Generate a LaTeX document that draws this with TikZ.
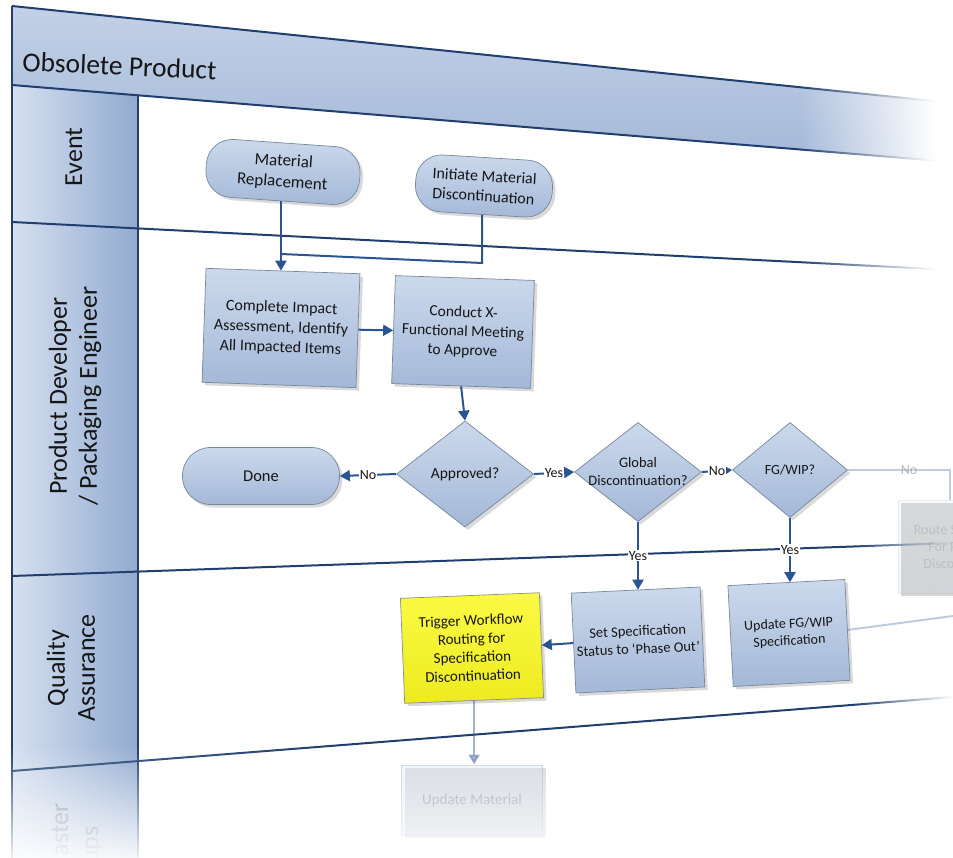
\documentclass[tikz,border=0pt]{standalone}
\usepackage{fontspec}
\setmainfont{Carlito}
\usetikzlibrary{arrows.meta,shapes.geometric,shadows,fadings}
\definecolor{lanec}{HTML}{203F6F}
\definecolor{connc}{HTML}{2A5592}
\definecolor{boxtop}{HTML}{CCD9EC}
\definecolor{boxbot}{HTML}{A3B8D7}
\definecolor{boxline}{HTML}{76879F}
\definecolor{colL}{HTML}{D6E0F0}
\definecolor{colR}{HTML}{91AAD0}
\definecolor{hdrT}{HTML}{C3D1E7}
\definecolor{hdrB}{HTML}{A3B8D8}
\definecolor{ylwT}{HTML}{FAFA45}
\definecolor{ylwB}{HTML}{EDEB1E}
\definecolor{txt}{HTML}{161616}
\tikzfading[name=fadeRight, left color=transparent!100, right color=transparent!0]
\tikzfading[name=fadeDown, top color=transparent!100, bottom color=transparent!8]
\tikzset{
  laneline/.style={draw=lanec, line width=2pt},
  lanecell/.style={left color=colL, right color=colR},
  basebox/.style={draw=boxline, line width=0.7pt, top color=boxtop, bottom color=boxbot,
    align=center, text=txt, inner sep=2pt,
    drop shadow={shadow xshift=3pt, shadow yshift=-3pt, opacity=0.3}},
  procbox/.style={basebox, font=\fontsize{16}{20}\selectfont},
  term/.style={basebox, rounded corners=26pt, font=\fontsize{16.5}{20}\selectfont},
  dec/.style={basebox, shape=diamond, inner sep=0pt},
  dectxt/.style={align=center, text=txt, font=\fontsize{15}{18}\selectfont},
  cline/.style={draw=connc, line width=2pt},
  conn/.style={cline, -{Triangle[length=10pt,width=11pt]}},
  lbl/.style={fill=white, inner sep=1pt, text=txt, font=\fontsize{14}{16}\selectfont},
  lanelbl/.style={rotate=90, align=center, text=txt, font=\fontsize{26}{30}\selectfont},
}
\begin{document}
\begin{tikzpicture}[x=1pt,y=-1pt]
\useasboundingbox (0,0) rectangle (953,858);
% header band and lane title cells
\shade[top color=hdrT, bottom color=hdrB] (12,6) -- (953,103) -- (953,162) -- (12,85) -- cycle;
\shade[lanecell] (12,85) -- (138,95.3) -- (138,228.5) -- (12,222) -- cycle;
\shade[lanecell] (12,222) -- (138,228.5) -- (138,571.6) -- (12,576) -- cycle;
\shade[lanecell] (12,576) -- (138,571.6) -- (138,761) -- (12,771) -- cycle;
\shade[lanecell] (12,771) -- (138,761) -- (138,858) -- (12,858) -- cycle;
% lane lines
\draw[laneline] (12,6) -- (953,103);
\draw[laneline] (12,85) -- (953,162);
\draw[laneline] (12,222) -- (953,270);
\draw[laneline] (12,576) -- (953,543);
\draw[laneline] (12,771) -- (953,697);
\draw[laneline] (12,6) -- (12,858);
\draw[laneline] (138,95.3) -- (138,858);
% titles
\node[rotate=-2.5, anchor=base west, text=txt, font=\fontsize{27.5}{30}\selectfont, inner sep=0pt] (title) at (22,71) {Obsolete Product};
\node[lanelbl] (lev) at (74,157) {Event};
\node[lanelbl] (lpd) at (75,396) {Product Developer\\/ Packaging Engineer};
\node[lanelbl] (lqa) at (71,668) {Quality\\Assurance};
\node[lanelbl, anchor=east, opacity=0.35] (lmd1) at (60,800) {Master};
\node[lanelbl, anchor=east, opacity=0.35] (lmd2) at (92,823) {Groups};
% nodes
\node[term, minimum width=154pt, minimum height=58pt, rotate=-4, font=\fontsize{17}{21}\selectfont] (mr) at (283,172) {Material\\Replacement};
\node[term, minimum width=137pt, minimum height=57pt, rotate=-3.5, font=\fontsize{16}{20}\selectfont] (init) at (484,186) {Initiate Material\\Discontinuation};
\node[procbox, minimum width=154pt, minimum height=114pt, rotate=-2] (comp) at (281,328) {Complete Impact\\Assessment, Identify\\All Impacted Items};
\node[procbox, minimum width=139pt, minimum height=108pt, rotate=-2, font=\fontsize{15.5}{19}\selectfont] (cond) at (463,332) {Conduct X-\\Functional Meeting\\to Approve};
\node[dec, minimum width=137pt, minimum height=106pt] (appr) at (465,474) {};
\node[dectxt, font=\fontsize{15.5}{18}\selectfont] (apprt) at (appr) {Approved?};
\node[term, minimum width=157pt, minimum height=57pt, rounded corners=28pt] (done) at (261,476) {Done};
\node[dec, minimum width=127pt, minimum height=99pt] (glob) at (638,472) {};
\node[dectxt, font=\fontsize{14.5}{18}\selectfont] (globt) at (glob) {Global\\Discontinuation?};
\node[dec, minimum width=115pt, minimum height=95pt] (fg) at (790,470) {};
\node[dectxt, font=\fontsize{14}{17}\selectfont] (fgt) at (fg) {FG/WIP?};
\node[procbox, minimum width=129pt, minimum height=100pt, rotate=2.7, font=\fontsize{14.5}{18}\selectfont] (setspec) at (638,640) {Set Specification\\Status to ‘Phase Out’};
\node[procbox, minimum width=117pt, minimum height=101pt, rotate=3, font=\fontsize{14}{17}\selectfont] (upd) at (789,633) {Update FG/WIP\\Specification};
\node[procbox, minimum width=139pt, minimum height=105pt, rotate=2.3, top color=ylwT, bottom color=ylwB, draw=black!45, font=\fontsize{15}{18.5}\selectfont] (trig) at (472,648) {Trigger Workflow\\Routing for\\Specification\\Discontinuation};
\node[procbox, minimum width=141pt, minimum height=70pt, opacity=0.3, font=\fontsize{15}{18}\selectfont] (um) at (472,800) {Update Material};
% connectors
\coordinate (j1) at (281,254);
\coordinate (j2) at (483,263);
\draw[conn] (mr.south) -- (mr.south |- comp.north);
\draw[cline] (init.south) -- (init.south |- j2) -- (j1);
\draw[conn] (comp) -- (cond);
\draw[conn] (cond.south) -- (appr.north);
\draw[conn] (appr.west) -- node[lbl] (lno1) {No} (done.east);
\draw[conn] (appr.east) -- node[lbl] (lyes1) {Yes} (glob.west);
\draw[conn] (glob.east) -- node[lbl] (lno2) {No} (fg.west);
\draw[conn] (glob.south) -- node[lbl] (lyes2) {Yes} (glob.south |- setspec.north);
\draw[conn] (fg.south) -- node[lbl] (lyes3) {Yes} (fg.south |- upd.north);
\draw[conn] (setspec.west) -- (trig.east);
\draw[conn, opacity=0.45] (trig.south) -- (trig.south |- um.north);
% fading overlays
\fill[white, path fading=fadeRight] (800,0) rectangle (935,300);
\fill[white] (935,0) rectangle (953,300);
\fill[white, path fading=fadeRight] (855,300) rectangle (953,858);
\fill[white, path fading=fadeDown] (0,745) rectangle (953,858);
% faded right part
\coordinate (r1) at (950,470);
\coordinate (r2) at (950,500);
\coordinate (r3) at (953,616);
\node[procbox, opacity=0.12, anchor=north west, minimum width=140pt, minimum height=93pt, font=\fontsize{14}{17}\selectfont] (route) at (898,500) {Route Specification\\For Phase Out\\Discontinuation};
\draw[cline, opacity=0.3] (fg.east) -- node[lbl, pos=0.6, text opacity=0.3] (lno3) {No} (r1) -- (r2);
\draw[cline, opacity=0.3] (upd.east) -- (r3);
\end{tikzpicture}
\end{document}
